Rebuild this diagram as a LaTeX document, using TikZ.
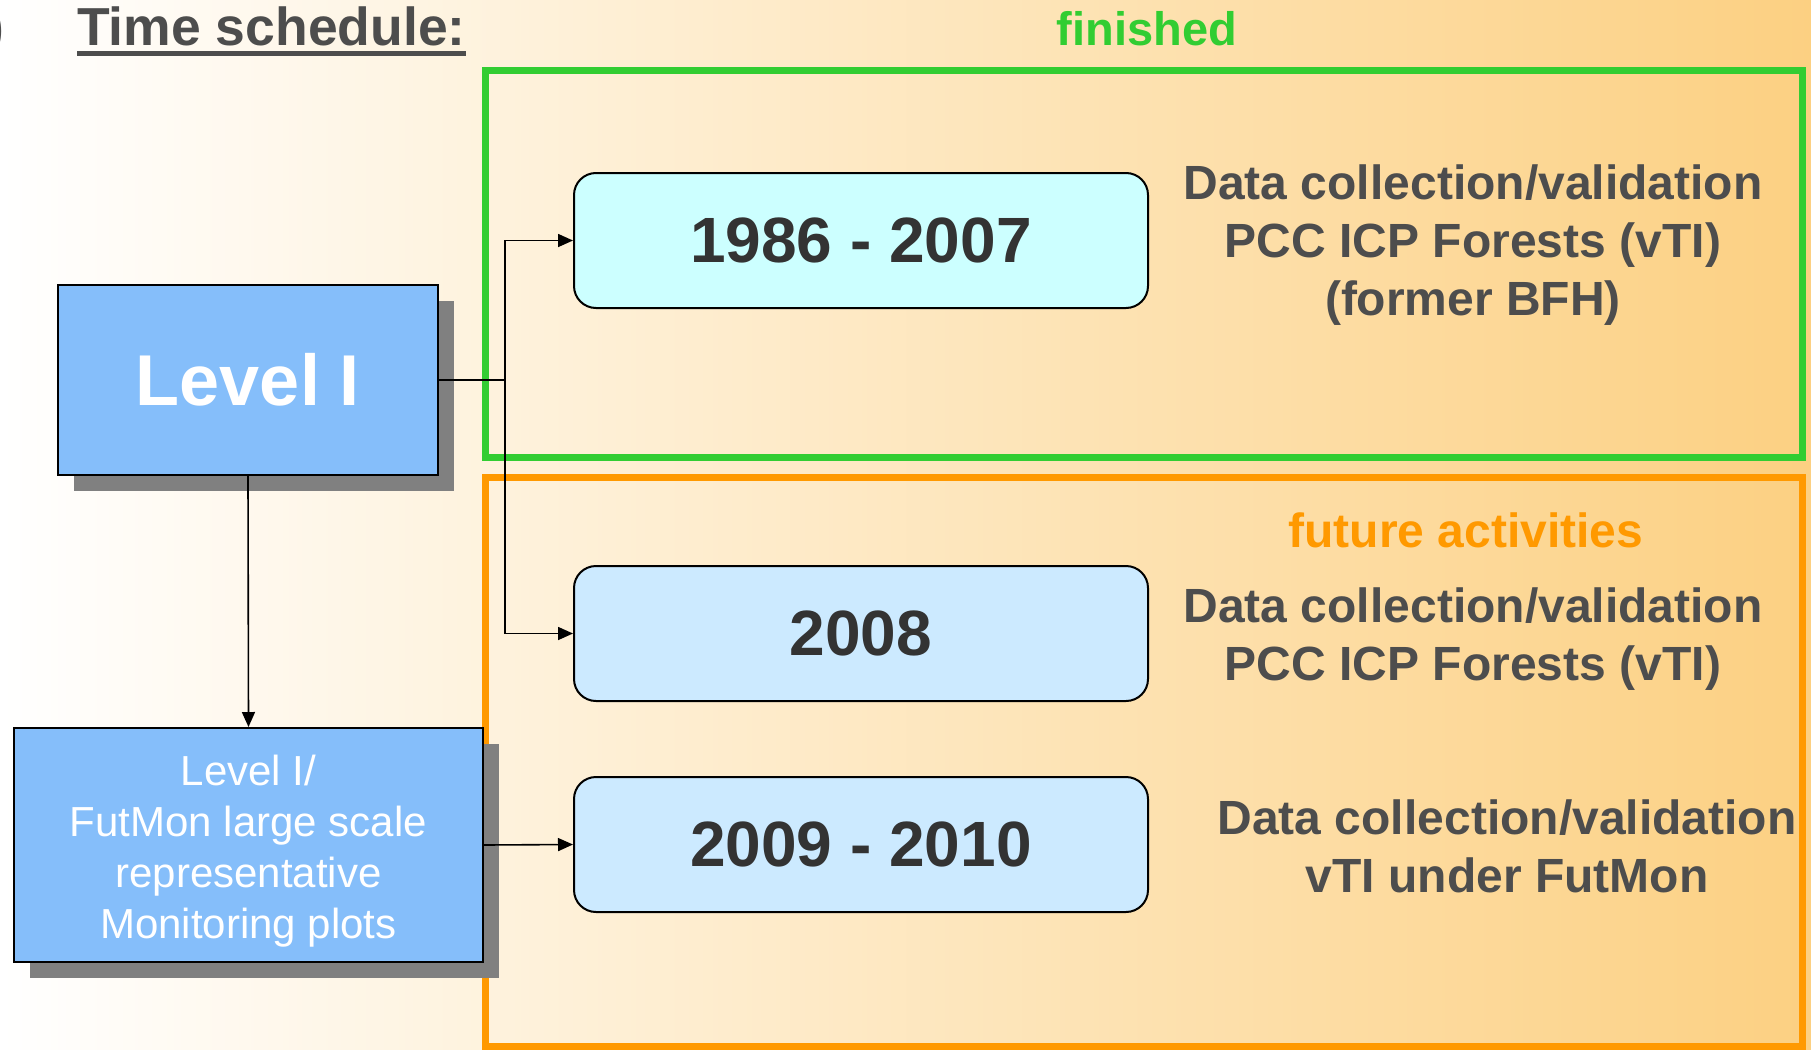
\documentclass[tikz,border=0pt]{standalone}
\usepackage{fontspec}
\setmainfont{Liberation Sans}
\usetikzlibrary{arrows.meta, positioning, shadows}
\definecolor{fondo}{RGB}{252,208,130}
\definecolor{fondomedio}{RGB}{254,238,212}
\definecolor{azulnivel}{RGB}{133,190,250}
\definecolor{cian}{RGB}{204,255,255}
\definecolor{celeste}{RGB}{204,234,255}
\definecolor{grisletra}{RGB}{77,77,77}
\definecolor{verde}{RGB}{50,205,50}
\definecolor{naranja}{RGB}{255,153,0}
\newcommand{\tam}[2]{\fontsize{#1}{#2}\selectfont}
\tikzstyle{nivel} = [draw=black, fill=azulnivel, line width=2pt, rectangle, text=white, align=center, drop shadow={shadow xshift=16pt, shadow yshift=-16pt, opacity=1, fill=gray}]
\tikzstyle{periodo} = [draw=black, line width=2pt, rectangle, rounded corners=22pt, minimum width=574pt, minimum height=135pt, text=black!80, font=\tam{64}{77}\bfseries]
\tikzstyle{tarea} = [text=grisletra, align=center, font=\tam{48}{58}\bfseries]
\tikzstyle{marco} = [line width=7pt]
\tikzstyle{flecha} = [line width=1.6pt, -{Triangle[length=15pt,width=13pt]}]

\begin{document}
\begin{tikzpicture}[x=1pt, y=-1pt]
	\useasboundingbox (0,0) rectangle (1811,1049);
	\shade[left color=white, middle color=fondomedio, right color=fondo] (0,0) rectangle (1811,1049);

	\node[anchor=base west, inner sep=0pt, text=grisletra, font=\tam{53.5}{64}\bfseries] (titulo) at (77,46) {Time schedule:};
	\draw[line width=5pt, grisletra] ([yshift=-8pt]titulo.base west) -- ([yshift=-8pt]titulo.base east);
	\node[anchor=base east, inner sep=0pt, text=grisletra, font=\tam{53.5}{64}\bfseries] (parentesis) at (5,46) {)};

	% marcos
	\draw[marco, verde] (485,70) rectangle (1802,457);
	\draw[marco, naranja] (485,477) rectangle (1802,1046);
	\node[anchor=base, text=verde, font=\tam{47}{56}\bfseries] (terminado) at (1147,46) {finished};
	\node[anchor=base, text=naranja, font=\tam{48}{58}\bfseries] (futuro) at (1466,547) {future activities};

	\node[nivel, minimum width=380pt, minimum height=190pt, font=\tam{72}{86}\bfseries] (nivel1) at (248,380) {Level I};
	\node[nivel, minimum width=469pt, minimum height=234pt, font=\tam{42}{51}] (futmon) at (248.5,845) {};
	\node[text=white, align=center, font=\tam{42}{51}] (futmontxt) at (248.5,851) {Level I/\\FutMon large scale\\representative\\Monitoring plots};

	\node[periodo, fill=cian] (p1) at (861,240.5) {1986 - 2007};
	\node[periodo, fill=celeste] (p2) at (861,633.5) {2008};
	\node[periodo, fill=celeste] (p3) at (861,844.5) {2009 - 2010};

	\node[tarea] (t1) at (1473,245) {Data collection/validation\\PCC ICP Forests (vTI)\\(former BFH)};
	\node[tarea] (t2) at (1473,639) {Data collection/validation\\PCC ICP Forests (vTI)};
	\node[tarea] (t3) at (1507,846) {Data collection/validation\\vTI under FutMon};

	\coordinate (cruce) at (505,380);
	\draw[line width=1.6pt] (nivel1.east) -- (cruce);
	\draw[flecha] (cruce) |- (p1.west);
	\draw[flecha] (cruce) |- (p2.west);
	\draw[flecha] (nivel1.south) -- (futmon.north);
	\draw[flecha] (futmon.east) -- (p3.west);
\end{tikzpicture}
\end{document}
